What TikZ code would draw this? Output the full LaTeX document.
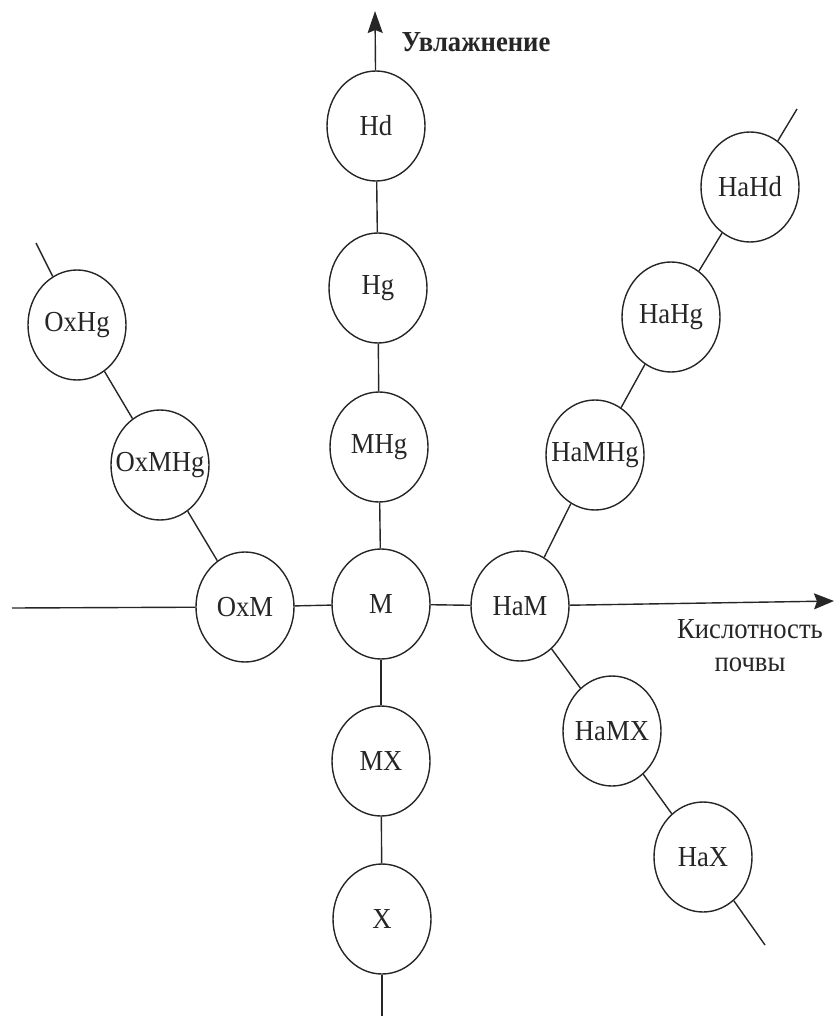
\documentclass[tikz,border=0pt]{standalone}
\usepackage{fontspec}
\setmainfont{Liberation Serif}[FakeStretch=0.92]
\usetikzlibrary{shapes.geometric, arrows.meta}
\definecolor{ink}{rgb}{0.15,0.15,0.15}

\begin{document}
\begin{tikzpicture}[x=1pt, y=-1pt, ink, line width=1.4pt,
    font=\fontsize{29}{33}\selectfont,
    zone/.style={draw, ellipse, minimum width=98pt, minimum height=110pt, inner xsep=-12pt, inner ysep=0pt}]

          \useasboundingbox (0, 0) rectangle (834, 1016);

          \node[zone] (Hd) at (376, 126) {Hd};
          \node[zone] (Hg) at (378, 288) {Hg};
          \node[zone] (MHg) at (379, 447) {MHg};
          \node[zone] (M) at (381, 604) {M};
          \node[zone] (MX) at (381, 761) {MX};
          \node[zone] (X) at (382, 919) {X};

          \node[zone] (OxM) at (245, 607) {OxM};
          \node[zone] (OxMHg) at (160, 465) {OxMHg};
          \node[zone] (OxHg) at (77, 325) {OxHg};

          \node[zone] (HaM) at (520, 606) {HaM};
          \node[zone] (HaMHg) at (595, 455) {HaMHg};
          \node[zone] (HaHg) at (671, 317) {HaHg};
          \node[zone] (HaHd) at (750, 187) {HaHd};
          \node[zone] (HaMX) at (612, 731) {HaMX};
          \node[zone] (HaX) at (703, 857) {HaX};

          \coordinate (top) at (375, 11);
          \coordinate (bottom) at (382, 1016);
          \coordinate (left) at (12, 608);
          \coordinate (right) at (834, 601);
          \coordinate (oxend) at (36, 243);
          \coordinate (hdend) at (797, 109);
          \coordinate (xend) at (765, 945);

          \draw[->, >={Stealth[length=22pt, width=15pt, inset=3pt]}] (Hd) -- (top);
          \draw (Hd) -- (Hg); \draw (Hg) -- (MHg); \draw (MHg) -- (M);
          \draw (M) -- (MX); \draw (MX) -- (X); \draw (X) -- (bottom);

          \draw (left) -- (OxM); \draw (OxM) -- (M); \draw (M) -- (HaM);
          \draw[->, >={Stealth[length=20pt, width=16pt, inset=3pt]}] (HaM) -- (right);

          \draw (OxM) -- (OxMHg); \draw (OxMHg) -- (OxHg); \draw (OxHg) -- (oxend);
          \draw (HaM) -- (HaMHg); \draw (HaMHg) -- (HaHg); \draw (HaHg) -- (HaHd);
          \draw (HaHd) -- (hdend);
          \draw (HaM) -- (HaMX); \draw (HaMX) -- (HaX); \draw (HaX) -- (xend);

          \node[font=\fontsize{29}{33}\bfseries] (wet) at (476, 42) {Увлажнение};
          \node[align=center] (acid) at (750, 646) {Кислотность\\почвы};

        \end{tikzpicture}
\end{document}
